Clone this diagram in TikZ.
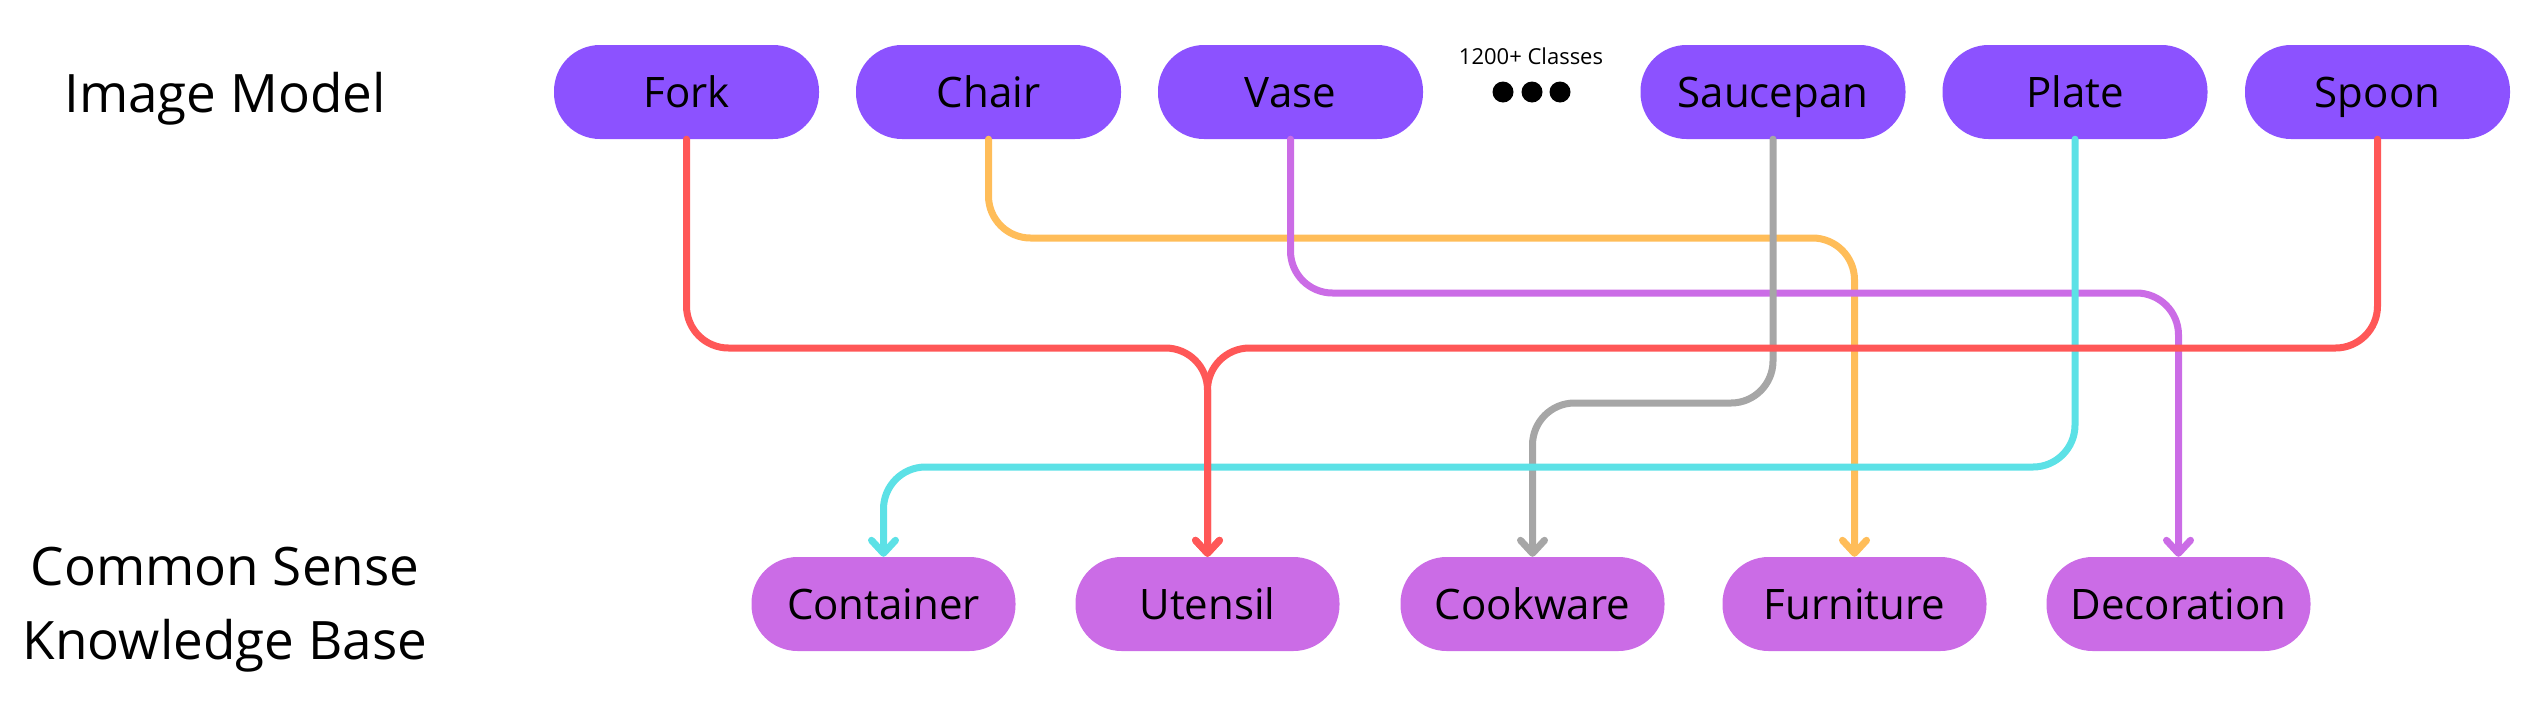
\documentclass[tikz,border=0pt]{standalone}
\usepackage{fontspec}
\setmainfont{Open Sans}
\usetikzlibrary{arrows.meta}
\definecolor{topfill}{HTML}{8C52FF}
\definecolor{botfill}{HTML}{CB6CE6}
\definecolor{cred}{HTML}{FF5757}
\definecolor{corange}{HTML}{FFBD59}
\definecolor{cpurple}{HTML}{CB6CE6}
\definecolor{cgray}{HTML}{A6A6A6}
\definecolor{ccyan}{HTML}{5CE1E6}
\tikzset{
  pill/.style={rounded corners=46pt, minimum width=265pt, minimum height=94pt,
    inner sep=0pt, text=black, text height=30pt, text depth=0pt,
    font=\fontsize{42}{50}\selectfont},
  toppill/.style={pill, fill=topfill},
  botpill/.style={pill, fill=botfill, minimum width=264pt},
  conn/.style={line width=7pt, rounded corners=42pt, line cap=round,
    -{Straight Barb[round, length=13pt, width=24pt]}},
  sidelabel/.style={font=\fontsize{53}{74}\selectfont, align=center, inner sep=0pt}
}
\begin{document}
\begin{tikzpicture}[x=1pt, y=-1pt]
\useasboundingbox (0,0) rectangle (2522,702);
% side labels
\node[sidelabel, anchor=base] (lblimg) at (225,112) {Image Model};
\node[sidelabel] (lblkb) at (225,610) {Common Sense\\Knowledge Base};
% top nodes
\node[toppill] (fork) at (686.5,92) {Fork};
\node[toppill] (chair) at (988.5,92) {Chair};
\node[toppill] (vase) at (1290.5,92) {Vase};
\node[toppill] (saucepan) at (1773,92) {Saucepan};
\node[toppill] (plate) at (2075,92) {Plate};
\node[toppill] (spoon) at (2377.5,92) {Spoon};
% ellipsis
\node[font=\fontsize{22}{26}\selectfont, inner sep=0pt] (classes) at (1531,56) {1200+ Classes};
\fill (1503,92) circle (10.5pt) (1532,92) circle (10.5pt) (1560,92) circle (10.5pt);
% bottom nodes
\node[botpill] (container) at (883.5,604) {Container};
\node[botpill] (utensil) at (1207.5,604) {Utensil};
\node[botpill] (cookware) at (1532.5,604) {Cookware};
\node[botpill] (furniture) at (1854.5,604) {Furniture};
\node[botpill] (decoration) at (2178.5,604) {Decoration};
% levels
\coordinate (yO) at (0,238);
\coordinate (yP) at (0,293);
\coordinate (yR) at (0,348);
\coordinate (yG) at (0,403);
\coordinate (yC) at (0,467);
% connectors
\draw[conn, draw=corange] (chair.south) -- (chair.south |- yO) -- (furniture.north |- yO) -- (furniture.north);
\draw[conn, draw=cpurple] (vase.south) -- (vase.south |- yP) -- (decoration.north |- yP) -- (decoration.north);
\draw[conn, draw=cgray] (saucepan.south) -- (saucepan.south |- yG) -- (cookware.north |- yG) -- (cookware.north);
\draw[conn, draw=ccyan] (plate.south) -- (plate.south |- yC) -- (container.north |- yC) -- (container.north);
\draw[conn, draw=cred] (fork.south) -- (fork.south |- yR) -- (utensil.north |- yR) -- (utensil.north);
\draw[conn, draw=cred] (spoon.south) -- (spoon.south |- yR) -- (utensil.north |- yR) -- (utensil.north);
\end{tikzpicture}
\end{document}
